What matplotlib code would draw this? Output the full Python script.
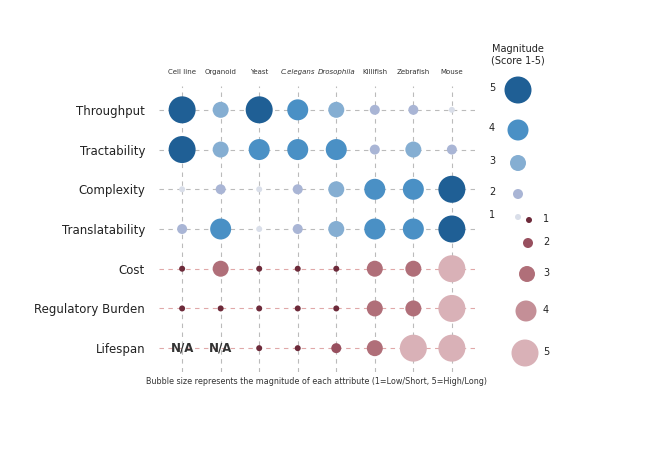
import numpy as np
import matplotlib
matplotlib.use("Agg")
import matplotlib.pyplot as plt

models = ["Cell line", "Organoid", "Yeast", "C.elegans", "Drosophila", "Killifish", "Zebrafish", "Mouse"]
attributes = ["Throughput", "Tractability", "Complexity", "Translatability", "Cost", "Regulatory Burden", "Lifespan"]
throughput = [5, 3, 5, 4, 3, 2, 2, 1]
tractability = [5, 3, 4, 4, 4, 2, 3, 2]
complexity = [1, 2, 1, 2, 3, 4, 4, 5]
translatability = [2, 4, 1, 2, 3, 4, 4, 5]
cost = [1, 3, 1, 1, 1, 3, 3, 5]
regulatory = [1, 1, 1, 1, 1, 3, 3, 5]
lifespan = [None, None, 1, 1, 2, 3, 5, 5]
rows = [throughput, tractability, complexity, translatability, cost, regulatory, lifespan]
is_red = [False, False, False, False, True, True, True]

blue = {1: "#d9dee9", 2: "#a9b5d5", 3: "#85aed2", 4: "#4a90c5", 5: "#1f5f95"}
red = {1: "#6d2a3a", 2: "#98505f", 3: "#b06f79", 4: "#c48f97", 5: "#d9b1b7"}
diam = {1: 6, 2: 10, 3: 16, 4: 21, 5: 27}
def s(v): return (diam[v] * 0.72) ** 2

W, H = 660, 453
fig = plt.figure(figsize=(6.6, 4.53), dpi=100)
ax = fig.add_axes([159 / W, 1 - 372 / H, (475 - 159) / W, (372 - 86) / H])
ax.set_xlim(-0.6, 7.6)
ax.set_ylim(6.6, -0.6)
for i in range(len(models)):
    ax.axvline(i, color="#bbbbbb", ls=(0, (4, 4)), lw=0.8, zorder=0)
for j, r in enumerate(attributes):
    ax.axhline(j, color="#e0a8a8" if is_red[j] else "#bbbbbb", ls=(0, (4, 4)), lw=0.8, zorder=0)
for j, vals in enumerate(rows):
    cmap = red if is_red[j] else blue
    for i, v in enumerate(vals):
        if v is None:
            ax.text(i, j, "N/A", ha="center", va="center", fontsize=8.5, fontweight="bold", color="#333333")
        else:
            ax.scatter(i, j, s=s(v), color=cmap[v], zorder=3, edgecolors="none")
ax.set_yticks(range(len(attributes)))
ax.set_yticklabels(attributes, fontsize=8.5, color="#222222")
ax.set_xticks([])
ax.tick_params(length=0, pad=10)
for sp in ax.spines.values():
    sp.set_visible(False)
for i, m in enumerate(models):
    ax.text(i, -0.95, m, ha="center", va="center", fontsize=5.0, color="#333333",
            style="italic" if m in ("C.elegans", "Drosophila") else "normal")
ax.text(3.5, 6.85, "Bubble size represents the magnitude of each attribute (1=Low/Short, 5=High/Long)",
        ha="center", va="center", fontsize=5.8, color="#333333")

lg = fig.add_axes([0, 0, 1, 1])
lg.set_xlim(0, W); lg.set_ylim(H, 0); lg.axis("off")
lg.text(518, 55, "Magnitude\n(Score 1-5)", ha="center", va="center", fontsize=7, color="#222222")
for v, y in zip([5, 4, 3, 2, 1], [90, 130, 163, 194, 217]):
    lg.scatter(518, y, s=s(v), color=blue[v], edgecolors="none")
    lg.text(492, y - 2, str(v), ha="center", va="center", fontsize=7, color="#222222")
for v, y in zip([1, 2, 3, 4, 5], [220, 243, 274, 311, 353]):
    lg.scatter(530 - v, y, s=s(v), color=red[v], edgecolors="none")
    lg.text(546, y - 1, str(v), ha="center", va="center", fontsize=7, color="#222222")
fig.savefig("out.png", dpi=100, facecolor="white")
